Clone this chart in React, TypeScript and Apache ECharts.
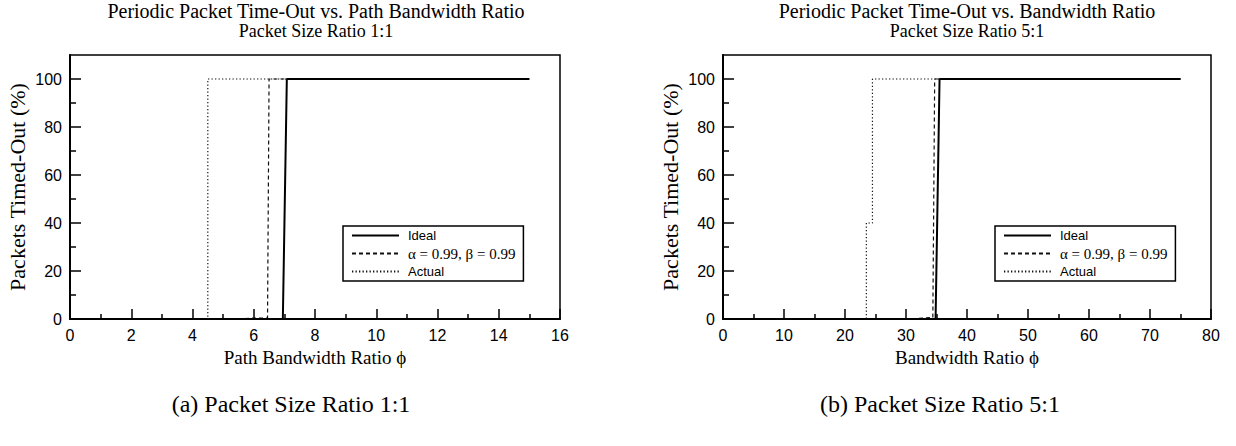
import React, { useEffect, useRef } from "react";
import * as echarts from "echarts";

// ---- data (x = bandwidth ratio, y = % packets timed-out) ----
const leftIdeal: number[][] = [[0, 0], [6.95, 0], [7.08, 100], [15, 100]];
const leftAlpha: number[][] = [[0, 0], [5.5, 0], [6.0, 0.4], [6.45, 0.4], [6.5, 100], [15, 100]];
const leftActual: number[][] = [[0, 0], [4.5, 0], [4.5, 100], [15, 100]];

const rightIdeal: number[][] = [[0, 0], [34.85, 0], [35.5, 100], [75, 100]];
const rightAlpha: number[][] = [[0, 0], [30.5, 0], [33.0, 0.4], [34.4, 0.6], [34.7, 100], [75, 100]];
const rightActual: number[][] = [[0, 0], [23.5, 0], [23.5, 40], [24.5, 40], [24.5, 100], [75, 100]];

const yMajorTicks = [0, 20, 40, 60, 80, 100];
const yMinorTicks = [10, 30, 50, 70, 90];

const seriesNames = ["Ideal", "α = 0.99, β = 0.99", "Actual"];

const titles = [
  "Periodic Packet Time-Out vs. Path Bandwidth Ratio",
  "Periodic Packet Time-Out vs. Bandwidth Ratio",
];
const subtitles = ["Packet Size Ratio 1:1", "Packet Size Ratio 5:1"];
const captions = ["(a) Packet Size Ratio 1:1", "(b) Packet Size Ratio 5:1"];
const xNames = ["Path Bandwidth Ratio ϕ", "Bandwidth Ratio ϕ"];
const yName = "Packets Timed-Out (%)";

const SERIF = "Liberation Serif";
const SANS = "Liberation Sans";

export default function App() {
  const ref = useRef<HTMLDivElement>(null);
  useEffect(() => {
    if (!ref.current) return;
    const chart = echarts.init(ref.current, undefined, { renderer: "svg" });

    const grids = [
      { left: 70, top: 55, width: 490, height: 264 },
      { left: 723, top: 55, width: 488, height: 264 },
    ];
    const xMax = [16, 80];
    const xInterval = [2, 10];

    const xAxis = grids.map((g, i) => ({
      gridIndex: i,
      type: "value",
      min: 0,
      max: xMax[i],
      interval: xInterval[i],
      name: xNames[i],
      nameLocation: "middle",
      nameGap: 26,
      nameTextStyle: { fontFamily: SERIF, fontSize: 19, color: "#000" },
      axisLine: { show: true, lineStyle: { color: "#000", width: 2 } },
      axisTick: { show: true, inside: true, length: 10, lineStyle: { color: "#000", width: 1.5 } },
      minorTick: { show: true, splitNumber: 2, length: 5, lineStyle: { color: "#000", width: 1.5 } },
      splitLine: { show: false },
      minorSplitLine: { show: false },
      axisLabel: { color: "#000", fontFamily: SANS, fontSize: 16, margin: 8 },
    }));

    const yAxis: any[] = [];
    grids.forEach((g, i) => {
      yAxis.push({
        gridIndex: i,
        type: "value",
        min: 0,
        max: 110,
        position: "left",
        name: yName,
        nameLocation: "middle",
        nameGap: 42,
        nameTextStyle: { fontFamily: SERIF, fontSize: 22, color: "#000" },
        axisLine: { show: true, lineStyle: { color: "#000", width: 2 } },
        axisTick: {
          show: true,
          inside: true,
          length: 11,
          customValues: yMajorTicks,
          lineStyle: { color: "#000", width: 1.5 },
        },
        axisLabel: {
          color: "#000",
          fontFamily: SANS,
          fontSize: 16,
          margin: 8,
          customValues: yMajorTicks,
        },
        splitLine: { show: false },
      });
      yAxis.push({
        gridIndex: i,
        type: "value",
        min: 0,
        max: 110,
        position: "left",
        axisLine: { show: false },
        axisTick: {
          show: true,
          inside: true,
          length: 6,
          customValues: yMinorTicks,
          lineStyle: { color: "#000", width: 1.5 },
        },
        axisLabel: { show: false },
        splitLine: { show: false },
      });
    });

    const data = [
      [leftIdeal, leftAlpha, leftActual],
      [rightIdeal, rightAlpha, rightActual],
    ];
    const styles = [
      { color: "#000", width: 2, type: "solid" as any, z: 5 },
      { color: "#111", width: 1.2, type: [4, 3] as any, z: 4 },
      { color: "#111", width: 1.2, type: [1.3, 2.2] as any, z: 3 },
    ];
    const series: any[] = [];
    data.forEach((set, gi) => {
      set.forEach((d, si) => {
        series.push({
          type: "line",
          name: seriesNames[si],
          xAxisIndex: gi,
          yAxisIndex: gi * 2,
          data: d,
          symbol: "none",
          z: styles[si].z,
          lineStyle: { color: styles[si].color, width: styles[si].width, type: styles[si].type },
          itemStyle: { color: styles[si].color },
        });
      });
    });

    const legendBase = (left: number) => ({
      orient: "vertical",
      left,
      top: 226,
      itemWidth: 47,
      itemHeight: 14,
      itemGap: 4,
      padding: [3, 8, 3, 8],
      borderColor: "#000",
      borderWidth: 1.5,
      selectedMode: false,
      data: seriesNames,
      itemStyle: { color: "rgba(0,0,0,0)", borderWidth: 0, opacity: 0 },
      formatter: (name: string) => (name.startsWith("α") ? `{s|${name}}` : `{a|${name}}`),
      textStyle: {
        color: "#000",
        fontFamily: SANS,
        fontSize: 13,
        rich: {
          s: { fontFamily: SERIF, fontSize: 15, color: "#000", padding: [0, 0, 0, 4] },
          a: { fontFamily: SANS, fontSize: 13, color: "#000", padding: [0, 0, 0, 4] },
        },
      },
    });

    const centers = [316, 967];
    const title: any[] = [];
    centers.forEach((c, i) => {
      title.push({
        text: titles[i],
        subtext: subtitles[i],
        left: c,
        top: 2,
        textAlign: "center",
        itemGap: 0,
        padding: 0,
        textStyle: { fontFamily: SERIF, fontSize: 20, fontWeight: "normal", color: "#000", lineHeight: 17 },
        subtextStyle: { fontFamily: SERIF, fontSize: 18, color: "#000", lineHeight: 17 },
      });
    });
    const captionCenters = [291, 940];
    captionCenters.forEach((c, i) => {
      title.push({
        text: captions[i],
        left: c,
        top: 392,
        textAlign: "center",
        padding: 0,
        textStyle: { fontFamily: SERIF, fontSize: 24, fontWeight: "normal", color: "#000" },
      });
    });

    chart.setOption({
      animation: false,
      backgroundColor: "#fff",
      title,
      grid: grids.map((g) => ({ ...g, show: true, borderColor: "#000", borderWidth: 1.5, containLabel: false })),
      xAxis,
      yAxis,
      legend: [legendBase(343), legendBase(995)],
      series,
    });
    return () => chart.dispose();
  }, []);

  return (
    <div
      ref={ref}
      style={{ position: "fixed", left: 0, top: 0, width: 1236, height: 446, background: "#fff" }}
    />
  );
}
